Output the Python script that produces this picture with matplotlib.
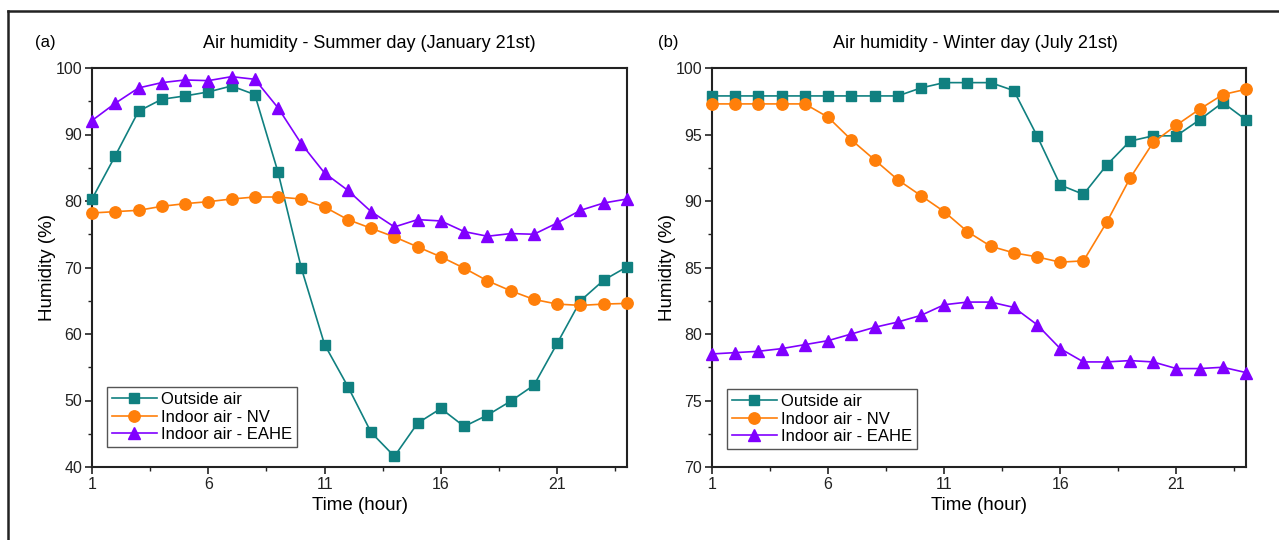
import matplotlib
matplotlib.use("Agg")
import matplotlib.pyplot as plt
from matplotlib.ticker import MultipleLocator, FixedLocator
from matplotlib.lines import Line2D

plt.rcParams['font.family'] = ['Liberation Sans', 'DejaVu Sans']

hours = list(range(1, 25))

# Summer day (January 21st)
summer_outside = [80.3, 86.8, 93.5, 95.3, 95.8, 96.4, 97.3, 96.0, 84.3, 69.9, 58.4, 52.1,
                  45.2, 41.6, 46.6, 48.8, 46.1, 47.8, 49.9, 52.3, 58.6, 65.0, 68.1, 70.1]
summer_nv = [78.2, 78.4, 78.6, 79.2, 79.6, 79.9, 80.3, 80.6, 80.6, 80.3, 79.1, 77.2,
             75.9, 74.6, 73.1, 71.6, 69.9, 68.0, 66.5, 65.2, 64.5, 64.3, 64.5, 64.6]
summer_eahe = [92.1, 94.7, 97.0, 97.8, 98.2, 98.1, 98.7, 98.3, 94.0, 88.6, 84.2, 81.6,
               78.4, 76.1, 77.2, 77.0, 75.4, 74.7, 75.1, 75.0, 76.7, 78.6, 79.7, 80.3]

# Winter day (July 21st)
winter_outside = [97.9, 97.9, 97.9, 97.9, 97.9, 97.9, 97.9, 97.9, 97.9, 98.5, 98.9, 98.9,
                  98.9, 98.3, 94.9, 91.2, 90.5, 92.7, 94.5, 94.9, 94.9, 96.1, 97.4, 96.1]
winter_nv = [97.3, 97.3, 97.3, 97.3, 97.3, 96.3, 94.6, 93.1, 91.6, 90.4, 89.2, 87.7,
             86.6, 86.1, 85.8, 85.4, 85.5, 88.4, 91.7, 94.4, 95.7, 96.9, 98.0, 98.4]
winter_eahe = [78.5, 78.6, 78.7, 78.9, 79.2, 79.5, 80.0, 80.5, 80.9, 81.4, 82.2, 82.4,
               82.4, 82.0, 80.7, 78.9, 77.9, 77.9, 78.0, 77.9, 77.4, 77.4, 77.5, 77.1]

series_labels = ["Outside air", "Indoor air - NV", "Indoor air - EAHE"]
colors = ["#108080", "#FF7F0A", "#8000FF"]
markers = ["s", "o", "^"]
msizes = [7.2, 8.2, 8.8]

titles = ["Air humidity - Summer day (January 21st)", "Air humidity - Winter day (July 21st)"]
panel_tags = ["(a)", "(b)"]
xticks = [1, 6, 11, 16, 21]

W, H = 1279, 540
fig = plt.figure(figsize=(W / 100, H / 100), dpi=100)

def fx(px):
    return px / W

def fy(py):
    return 1 - py / H

# outer frame
fig.add_artist(Line2D([fx(8), 1.0], [fy(11), fy(11)], color='#222222', lw=1.8, transform=fig.transFigure))
fig.add_artist(Line2D([fx(8), fx(8)], [fy(11), 0.0], color='#222222', lw=1.8, transform=fig.transFigure))

panels = [
    dict(left=92, right=627, data=[summer_outside, summer_nv, summer_eahe],
         ylim=(40, 100), major=10, minor=5, title_x=369, tag_x=45, ylab_x=47,
         leg_anchor=(0.028, 0.05)),
    dict(left=712, right=1246, data=[winter_outside, winter_nv, winter_eahe],
         ylim=(70, 100), major=5, minor=2.5, title_x=975, tag_x=668, ylab_x=667,
         leg_anchor=(0.028, 0.045)),
]

top, bottom = 68, 467
for i, p in enumerate(panels):
    ax = fig.add_axes([fx(p['left']), fy(bottom), (p['right'] - p['left']) / W, (bottom - top) / H])
    for vals, lab, c, m, ms in zip(p['data'], series_labels, colors, markers, msizes):
        ax.plot(hours, vals, color=c, marker=m, markersize=ms, lw=1.2, label=lab,
                markeredgecolor=c, clip_on=False, zorder=3)
    ax.set_xlim(1, 24)
    ax.set_ylim(*p['ylim'])
    ax.xaxis.set_major_locator(FixedLocator(xticks))
    ax.xaxis.set_minor_locator(FixedLocator([3.5, 8.5, 13.5, 18.5, 23.5]))
    ax.yaxis.set_major_locator(MultipleLocator(p['major']))
    ax.yaxis.set_minor_locator(MultipleLocator(p['minor']))
    ax.tick_params(which='both', direction='out', top=False, right=False, labelsize=11.5,
                   colors='#222222', pad=2)
    ax.tick_params(which='major', length=5, width=1.2)
    ax.tick_params(which='minor', length=3, width=1.0)
    for s in ax.spines.values():
        s.set_linewidth(1.5)
        s.set_color('#222222')
    ax.set_xlabel("Time (hour)", fontsize=13.5, labelpad=4)
    fig.text(fx(p['ylab_x']), fy((top + bottom) / 2), "Humidity (%)", rotation=90,
             ha='center', va='center', fontsize=13.5)
    fig.text(fx(p['title_x']), fy(44), titles[i], ha='center', va='center', fontsize=13)
    fig.text(fx(p['tag_x']), fy(43), panel_tags[i], ha='center', va='center', fontsize=12)
    leg = ax.legend(loc='lower left', bbox_to_anchor=p['leg_anchor'], fontsize=12,
                    fancybox=False, edgecolor='#555555', framealpha=1,
                    handlelength=2.7, handletextpad=0.25, borderpad=0.3, labelspacing=0.15,
                    borderaxespad=0)
    leg.get_frame().set_linewidth(1.0)

fig.savefig("out.png", dpi=100)
